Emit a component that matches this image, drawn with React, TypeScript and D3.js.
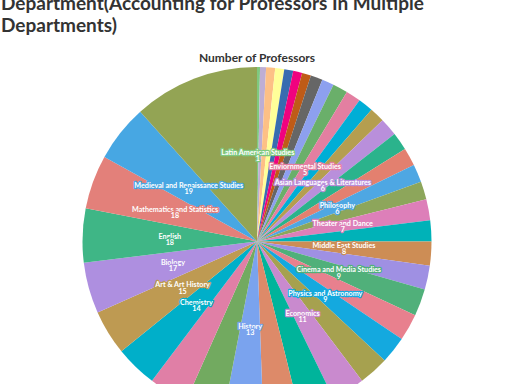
import React from 'react';
import * as d3 from 'd3';

const titleLines = ['Department(Accounting for Professors In Multiple', 'Departments)'];
const seriesTitle = 'Number of Professors';

const departments = [
  'Latin American Studies', 'Jewish and Diaspora Studies', 'Classics', 'Russian Studies', 'Religion',
  'Music', 'Architectural Studies', 'Black Studies', 'Computer Science', 'German Studies',
  'Enviornmental Studies', 'Geology', 'Sociology', 'Asian Languages & Literatures', 'Psychology',
  'Political Science', 'Philosophy', 'Anthropology', 'Theater and Dance', 'French Studies',
  'Middle East Studies', 'Spanish and Portuguese', 'Cinema and Media Studies', 'Neuroscience', 'Physics and Astronomy',
  'European Studies', 'Economics', 'American Studies', 'International Relations', 'History',
  'Education', "Women's and Gender Studies", 'Chemistry', 'Art & Art History', 'Biology',
  'English', 'Mathematics and Statistics', 'Medieval and Renaissance Studies', 'Interdisciplinary Studies',
];

const professors = [
  1, 2, 3, 3, 3,
  3, 3, 4, 4, 5,
  5, 5, 5, 6, 6,
  6, 6, 6, 7, 7,
  8, 8, 9, 9, 9,
  10, 11, 12, 12, 13,
  13, 13, 14, 15, 17,
  18, 18, 19, 42,
];

const sliceColors = [
  '#7fc97f', '#beaed4', '#fdc086', '#ffff99', '#386cb0',
  '#f0027f', '#bf5b17', '#666666', '#8da0ef', '#6aaf6a',
  '#e37fa1', '#00aed6', '#b59e4f', '#b98fdb', '#2bb38c',
  '#e3806f', '#4ea7e3', '#8da65b', '#dd7fb9', '#00b2b8',
  '#cd8d55', '#9f90e3', '#50b07a', '#e8808e', '#14a9df',
  '#a6a14f', '#c98ace', '#00b49b', '#dd8a69', '#7aa3ee',
  '#72aa60', '#e07fa6', '#00afc9', '#be9a52', '#ae8fe0',
  '#3fb686', '#e3807a', '#47a7e3', '#93a454',
];

// Department labels that are visible in the chart (others are hidden by overlap)
const labeledDepartments = [
  'Latin American Studies', 'Enviornmental Studies', 'Asian Languages & Literatures', 'Philosophy',
  'Theater and Dance', 'Middle East Studies', 'Cinema and Media Studies', 'Physics and Astronomy',
  'Economics', 'History', 'Chemistry', 'Art & Art History', 'Biology', 'English',
  'Mathematics and Statistics', 'Medieval and Renaissance Studies',
];

type Datum = { name: string; value: number; color: string };

export default function App() {
  const W = 512;
  const H = 384;
  const cx = 257;
  const cy = 241.5;
  const R = 174.5;

  const data: Datum[] = departments.map((name, i) => ({
    name,
    value: professors[i],
    color: sliceColors[i],
  }));

  const pie = d3
    .pie<Datum>()
    .value((d) => d.value)
    .sort(null)
    .startAngle(0)
    .endAngle(2 * Math.PI);
  const arcs = pie(data);
  const arcGen = d3.arc<d3.PieArcDatum<Datum>>().innerRadius(0).outerRadius(R);
  const labelArc = d3.arc<d3.PieArcDatum<Datum>>().innerRadius(R / 2).outerRadius(R / 2);

  const font = 'Lato, "Open Sans", sans-serif';

  return (
    <div style={{ position: 'absolute', left: 0, top: 0 }}>
      <svg width={W} height={H} style={{ display: 'block', background: '#fff' }}>
        <text x={1} y={9.5} fontFamily={font} fontWeight={700} fontSize={19} fill="#333">
          {titleLines[0]}
        </text>
        <text x={1} y={32} fontFamily={font} fontWeight={700} fontSize={19} fill="#333">
          {titleLines[1]}
        </text>
        <text x={cx} y={62} textAnchor="middle" fontFamily={font} fontWeight={700} fontSize={12} fill="#333">
          {seriesTitle}
        </text>
        <g transform={`translate(${cx},${cy})`}>
          {arcs.map((a, i) => (
            <path key={i} d={arcGen(a) || ''} fill={a.data.color} />
          ))}
          {arcs
            .filter((a) => labeledDepartments.includes(a.data.name))
            .map((a, i) => {
              const [lx, ly] = labelArc.centroid(a);
              return (
                <text
                  key={i}
                  x={lx}
                  y={ly + 0.3}
                  textAnchor="middle"
                  fontFamily={font}
                  fontWeight={700}
                  fontSize={7.2}
                  fill="#fff"
                  stroke={a.data.color}
                  strokeWidth={2.4}
                  strokeLinejoin="round"
                  style={{ paintOrder: 'stroke' }}
                >
                  <tspan x={lx} dy={0}>{a.data.name}</tspan>
                  <tspan x={lx} dy={6.2}>{a.data.value}</tspan>
                </text>
              );
            })}
        </g>
      </svg>
    </div>
  );
}
